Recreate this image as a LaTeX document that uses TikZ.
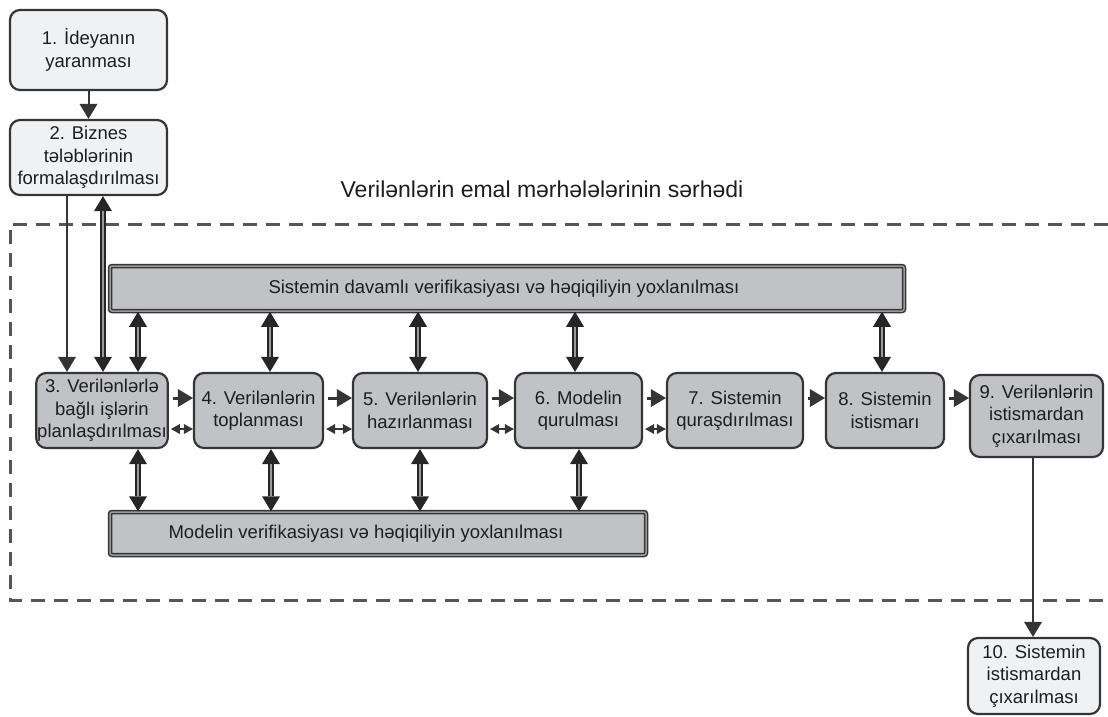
\documentclass[tikz,border=0pt]{standalone}
\usepackage{fontspec}
\setmainfont{Liberation Sans}
\usetikzlibrary{arrows.meta}
\definecolor{boxgray}{HTML}{C1C2C5}
\definecolor{boxlight}{HTML}{F0F1F3}
\definecolor{edgec}{HTML}{353535}
\definecolor{dashc}{HTML}{555555}
\definecolor{txt}{HTML}{1E1E1E}
\definecolor{shaft}{HTML}{9A9A9A}
\tikzset{
  stage/.style={draw=edgec, line width=2.2pt, rounded corners=10pt, fill=boxgray,
    align=center, text=txt, font=\fontsize{18.5}{22.5}\selectfont, inner sep=1pt},
  lightstage/.style={stage, fill=boxlight},
  bar/.style={draw=edgec, double=shaft, double distance=1.5pt, line width=1.5pt,
    fill=boxgray, rounded corners=2pt, text=txt, font=\fontsize{18.5}{22}\selectfont, inner sep=0pt},
  bigtip/.tip={Triangle[width=18pt,length=15pt,line width=0pt]},
  smalltip/.tip={Triangle[width=10pt,length=9pt,line width=0pt]},
  fwd/.style={draw=edgec, line width=3pt, -bigtip, shorten <=4pt},
  small/.style={draw=edgec, line width=2pt, smalltip-smalltip, shorten <=2pt},
  sconn/.style={draw=edgec, line width=2pt, -bigtip},
  dconn/.style={draw=black!85, line width=5.5pt, bigtip-bigtip,
    postaction={draw=shaft, line width=2.2pt, arrows=-, shorten <=15pt, shorten >=15pt}},
  frame/.style={draw=dashc, line width=3pt, dash pattern=on 14pt off 9pt}
}
\begin{document}
\begin{tikzpicture}[x=1pt,y=-1pt]
\useasboundingbox (0,0) rectangle (1108,716);
% frame
\coordinate (ftr) at (1108,224);
\coordinate (ftl) at (10,224);
\coordinate (fbl) at (10,600);
\coordinate (fbr) at (1108,600);
\draw[frame] (ftr) -- (ftl) -- (fbl) -- (fbr);
\node[font=\fontsize{23}{26}\selectfont, text=txt, anchor=base] (title) at (542,197)
  {Verilənlərin emal mərhələlərinin sərhədi};
% boxes
\node[lightstage, minimum width=157pt, minimum height=80pt] (b1) at (88.5,50) {1. İdeyanın\\yaranması};
\node[lightstage, minimum width=157pt, minimum height=75pt] (b2) at (88.5,157.5) {2. Biznes\\tələblərinin\\formalaşdırılması};
\node[stage, minimum width=130pt, minimum height=75pt] (b3) at (102,410.5) {3. Verilənlərlə\\bağlı işlərin\\planlaşdırılması};
\node[stage, minimum width=129pt, minimum height=75pt] (b4) at (258.5,410.5) {4. Verilənlərin\\toplanması};
\node[stage, minimum width=134pt, minimum height=75pt] (b5) at (420,410.5) {5. Verilənlərin\\hazırlanması};
\node[stage, minimum width=127pt, minimum height=75pt] (b6) at (578.5,410.5) {6. Modelin\\qurulması};
\node[stage, minimum width=136pt, minimum height=75pt] (b7) at (735,410.5) {7. Sistemin\\quraşdırılması};
\node[stage, minimum width=118pt, minimum height=75pt] (b8) at (885,410.5) {8. Sistemin\\istismarı};
\node[stage, minimum width=133pt, minimum height=82pt] (b9) at (1036.5,416) {9. Verilənlərin\\istismardan\\çıxarılması};
\node[lightstage, minimum width=132pt, minimum height=76pt] (b10) at (1034,676) {10. Sistemin\\istismardan\\çıxarılması};
% bars
\node[bar, minimum width=794pt, minimum height=45pt] (top) at (507,288.5)
  {\hspace*{-6pt}Sistemin davamlı verifikasiyası və həqiqiliyin yoxlanılması};
\node[bar, minimum width=536pt, minimum height=43pt] (bot) at (378,533.5)
  {\hspace*{-24pt}Modelin verifikasiyası və həqiqiliyin yoxlanılması};
% top connectors
\draw[sconn] (b1.south) -- (b2.north);
\draw[sconn] (b2.south -| 67,0) -- (b3.north -| 67,0);
\draw[dconn] (b3.north -| 103,0) -- (b2.south -| 103,0);
\draw[dconn] (b3.north -| 138,0) -- (top.south -| 138,0);
\draw[dconn] (b4.north -| 270,0) -- (top.south -| 270,0);
\draw[dconn] (b5.north -| 418,0) -- (top.south -| 418,0);
\draw[dconn] (b6.north -| 575,0) -- (top.south -| 575,0);
\draw[dconn] (b8.north -| 882,0) -- (top.south -| 882,0);
% bottom connectors
\draw[dconn] (b3.south -| 138,0) -- (bot.north -| 138,0);
\draw[dconn] (b4.south -| 271,0) -- (bot.north -| 271,0);
\draw[dconn] (b5.south -| 420,0) -- (bot.north -| 420,0);
\draw[dconn] (b6.south -| 579,0) -- (bot.north -| 579,0);
% forward arrows
\draw[fwd] (b3.east |- 0,398) -- (b4.west |- 0,398);
\draw[fwd] (b4.east |- 0,398) -- (b5.west |- 0,398);
\draw[fwd] (b5.east |- 0,398) -- (b6.west |- 0,398);
\draw[fwd] (b6.east |- 0,398) -- (b7.west |- 0,398);
\draw[fwd] (b7.east |- 0,398) -- (b8.west |- 0,398);
\draw[fwd] (b8.east |- 0,398) -- (b9.west |- 0,398);
% small two-way arrows
\draw[small] (b3.east |- 0,429) -- (b4.west |- 0,429);
\draw[small] (b4.east |- 0,429) -- (b5.west |- 0,429);
\draw[small] (b5.east |- 0,429) -- (b6.west |- 0,429);
\draw[small] (b6.east |- 0,429) -- (b7.west |- 0,429);
% exit
\draw[sconn] (b9.south -| 1033,0) -- (b10.north -| 1033,0);
\end{tikzpicture}
\end{document}
